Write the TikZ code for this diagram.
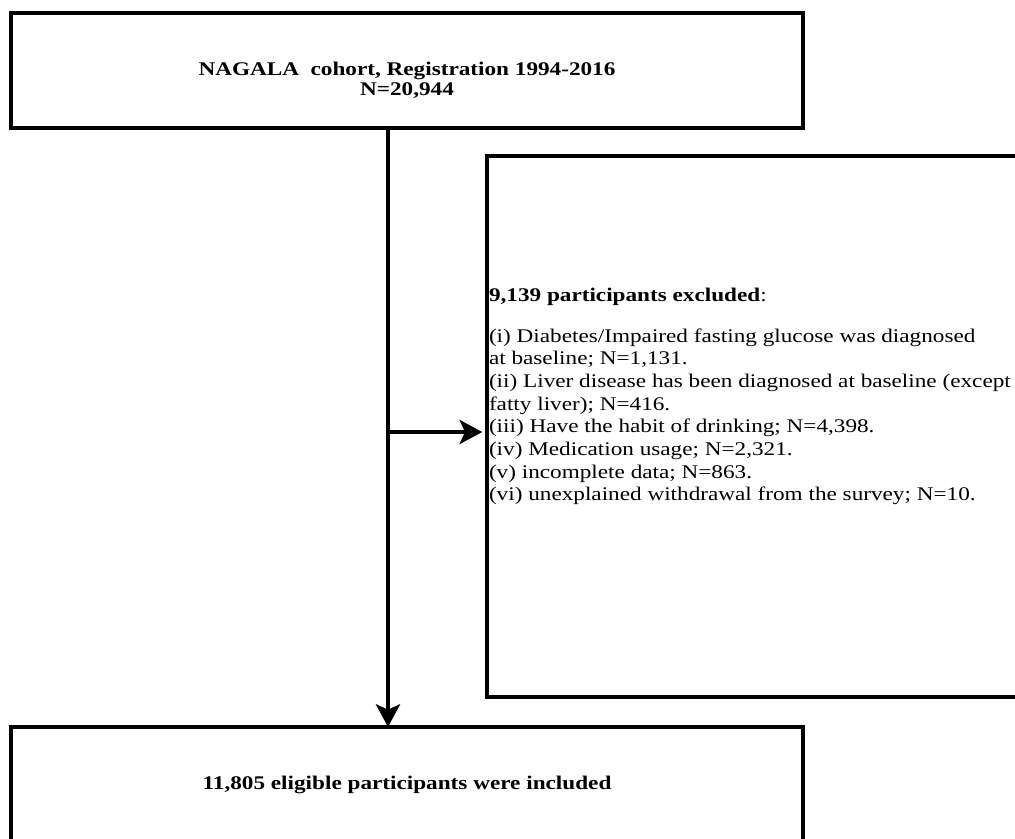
\documentclass[tikz,border=0pt]{standalone}
\usepackage{fontspec}
\setmainfont{Liberation Serif}[FakeStretch=1.2]
\usetikzlibrary{arrows.meta}
\tikzstyle{cohort} = [rectangle, minimum width=594pt, minimum height=86pt, outer sep=0pt, text centered, align=center, draw=black, line width=3pt, font=\fontsize{14.5}{15}\selectfont\bfseries]
\tikzstyle{excluded} = [rectangle, anchor=north west, inner xsep=1.5pt, inner ysep=0pt, outer sep=0pt, draw=black, line width=3pt, font=\fontsize{14.5}{17}\selectfont]
\tikzstyle{included} = [rectangle, anchor=north west, minimum width=594pt, minimum height=87pt, outer sep=0pt, text centered, draw=black, line width=3pt, font=\fontsize{14.5}{15}\selectfont\bfseries]
\tikzstyle{arrow} = [line width=3pt, -{Stealth[length=17pt, width=18pt, inset=4pt]}]

\begin{document}
\begin{tikzpicture}[x=0.75pt, y=-0.75pt]
\useasboundingbox (0,0) rectangle (1015,839);

% objects
\node (cohort) at (407,70.5) [cohort] {\rule{0pt}{24pt}NAGALA\ \ cohort, Registration 1994-2016\\N=20,944};

\node (excluded) at (487,156) [excluded] {\begin{minipage}[c][406pt][t]{495pt}\raggedright
\vspace*{99pt}
\textbf{9,139 participants excluded}:\\[13.5pt]
(i) Diabetes/Impaired fasting glucose was diagnosed\\
at baseline; N=1,131.\\
(ii) Liver disease has been diagnosed at baseline (except\\
fatty liver); N=416.\\
(iii) Have the habit of drinking; N=4,398.\\
(iv) Medication usage; N=2,321.\\
(v) incomplete data; N=863.\\
(vi) unexplained withdrawal from the survey; N=10.
\end{minipage}};

\node (included) at (11,727) [included] {11,805 eligible participants were included};

\coordinate (split) at (388,432);

% arrows
\draw [arrow] (cohort.south -| split) -- (included.north -| split);
\draw [arrow, shorten >=3.5pt] (split) -- (excluded.west |- split);

\end{tikzpicture}
\end{document}
